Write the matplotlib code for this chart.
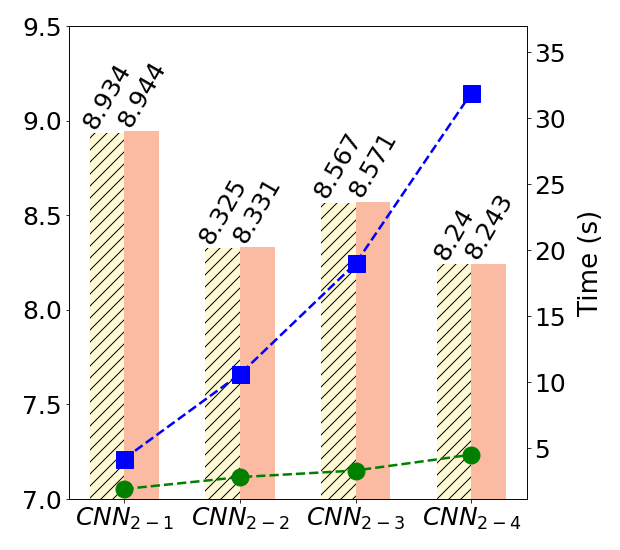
import numpy as np
import matplotlib
matplotlib.use("Agg")
import matplotlib.pyplot as plt

# data
models      = [r"$CNN_{2-1}$", r"$CNN_{2-2}$", r"$CNN_{2-3}$", r"$CNN_{2-4}$"]
score_a     = [8.934, 8.325, 8.567, 8.24]
score_b     = [8.944, 8.331, 8.571, 8.243]
time_blue   = [4.2, 10.6, 19.0, 31.9]
time_green  = [1.9, 2.8, 3.3, 4.5]

DPI = 72
fig = plt.figure(figsize=(620 / DPI, 550 / DPI), dpi=DPI)
ax = fig.add_axes([0.111, 0.0927, 0.739, 0.86])

x = np.arange(len(models))
w = 0.30

bars_a = ax.bar(x - w / 2, score_a, w, color="#fffad5", edgecolor="black", linewidth=0, hatch="//")
bars_b = ax.bar(x + w / 2, score_b, w, color="#fbbba3", linewidth=0)

for xi, v in zip(x - w / 2, score_a):
    ax.text(xi, v, str(v), rotation=60, ha="center", va="bottom", fontsize=25)
for xi, v in zip(x + w / 2, score_b):
    ax.text(xi, v, str(v), rotation=60, ha="center", va="bottom", fontsize=25)

ax.set_ylim(7.0, 9.5)
ax.set_xticks(x)
ax.set_xticklabels(models, fontsize=25)
ax.tick_params(axis="y", labelsize=25)

ax2 = ax.twinx()
ax2.plot(x, time_blue, "--", color="blue", marker="s", markersize=17, linewidth=2.5)
ax2.plot(x, time_green, "--", color="green", marker="o", markersize=17, linewidth=2.5)
ax2.set_ylim(1.14, 36.97)
ax2.set_ylabel("Time (s)", fontsize=26, labelpad=12)
ax2.tick_params(axis="y", labelsize=25)

fig.savefig("out.png", dpi=DPI)
